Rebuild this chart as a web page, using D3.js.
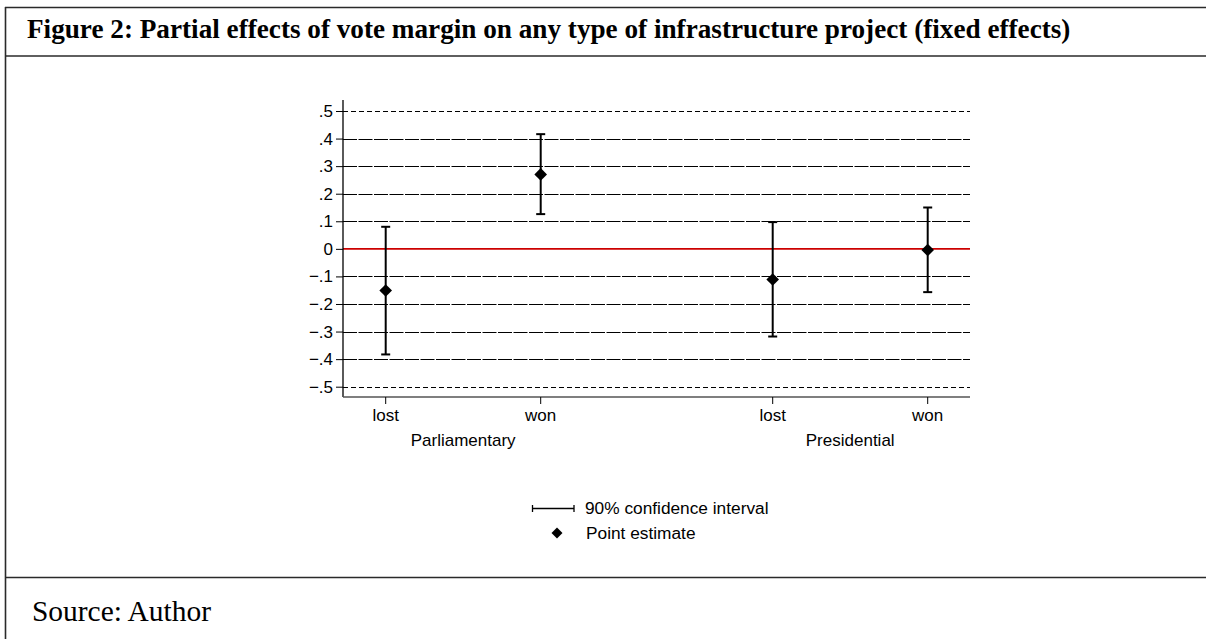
<!DOCTYPE html>
<html>
<head>
<meta charset="utf-8">
<script src="https://cdn.jsdelivr.net/npm/d3@7"></script>
<style>
html,body{margin:0;padding:0;background:#fff;}
svg{display:block;}
</style>
</head>
<body>
<svg id="chart" width="1206" height="639"></svg>
<script>
// ---- data ----
const titleText = "Figure 2: Partial effects of vote margin on any type of infrastructure project (fixed effects)";
const sourceText = "Source: Author";
const groups = ["Parliamentary", "Presidential"];
const outcomes = ["lost", "won"];
const estimates = [-0.151, 0.270, -0.111, -0.004];
const ciLower   = [-0.383, 0.126, -0.318, -0.157];
const ciUpper   = [0.080, 0.416, 0.097, 0.150];
const yTicks = [0.5, 0.4, 0.3, 0.2, 0.1, 0, -0.1, -0.2, -0.3, -0.4, -0.5];
const legendLabels = ["90% confidence interval", "Point estimate"];

const rows = [];
groups.forEach((g, gi) => outcomes.forEach((o, oi) => {
  const i = gi * outcomes.length + oi;
  rows.push({group: g, outcome: o, est: estimates[i], lo: ciLower[i], hi: ciUpper[i]});
}));

const svg = d3.select("#chart");

// ---- frame ----
const frameColor = "#2a2a2a";
svg.append("line").attr("x1", 5).attr("x2", 1206).attr("y1", 7.5).attr("y2", 7.5).attr("stroke", frameColor).attr("stroke-width", 1.6);
svg.append("line").attr("x1", 5).attr("x2", 1206).attr("y1", 56).attr("y2", 56).attr("stroke", frameColor).attr("stroke-width", 1.6);
svg.append("line").attr("x1", 5).attr("x2", 1206).attr("y1", 577.5).attr("y2", 577.5).attr("stroke", frameColor).attr("stroke-width", 1.6);
svg.append("line").attr("x1", 5.5).attr("x2", 5.5).attr("y1", 7).attr("y2", 639).attr("stroke", frameColor).attr("stroke-width", 1.6);

function fitText(sel, target) {
  const fs = parseFloat(sel.attr("font-size"));
  const w = sel.node().getComputedTextLength();
  sel.attr("font-size", (fs * target / w).toFixed(2));
}
const title = svg.append("text").attr("x", 27).attr("y", 38)
  .attr("font-family", "'Liberation Serif','Times New Roman',serif").attr("font-weight", "bold")
  .attr("font-size", 22).attr("fill", "#000").text(titleText);
fitText(title, 1044);
const src = svg.append("text").attr("x", 32).attr("y", 621)
  .attr("font-family", "'Liberation Serif','Times New Roman',serif")
  .attr("font-size", 26).attr("fill", "#000").text(sourceText);
fitText(src, 179);

// ---- scales ----
const plotL = 343, plotR = 970, plotT = 100, plotB = 397;
const y = d3.scaleLinear().domain([-0.5, 0.5]).range([386.7, 111]);
const gx = d3.scalePoint().domain(groups).range([463.2, 850.2]);
const ox = d3.scalePoint().domain(outcomes).range([-77.5, 77.5]);
const xPos = d => gx(d.group) + ox(d.outcome);

const font = "'Liberation Sans', Arial, Helvetica, sans-serif";
const fmt = v => v === 0 ? "0" : d3.format(".1f")(v).replace("0.", ".");

// ---- gridlines ----
const grid = svg.append("g");
grid.selectAll("line").data(yTicks.filter(t => t !== 0)).join("line")
  .attr("x1", plotL).attr("x2", plotR)
  .attr("y1", d => Math.round(y(d)) + 0.5).attr("y2", d => Math.round(y(d)) + 0.5)
  .attr("stroke", "#000").attr("stroke-width", 1)
  .attr("stroke-dasharray", d => Math.abs(d) === 0.5 ? "5,3" : "14,1.5");
svg.append("line").attr("x1", plotL).attr("x2", plotR)
  .attr("y1", y(0)).attr("y2", y(0))
  .attr("stroke", "#cc0000").attr("stroke-width", 1.8);

// ---- y axis ----
const yAxis = d3.axisLeft(y).tickValues(yTicks).tickFormat(fmt).tickSize(7).tickPadding(3);
const yg = svg.append("g").attr("transform", `translate(${plotL},0)`).call(yAxis);
yg.select(".domain").remove();
yg.selectAll(".tick line").attr("stroke", "#000").attr("stroke-width", 1);
yg.selectAll(".tick text").attr("font-family", font).attr("font-size", 17).attr("fill", "#000");
svg.append("line").attr("x1", plotL).attr("x2", plotL).attr("y1", plotT).attr("y2", plotB)
  .attr("stroke", "#000").attr("stroke-width", 1.3);

// ---- x axis ----
svg.append("line").attr("x1", plotL).attr("x2", plotR).attr("y1", plotB).attr("y2", plotB)
  .attr("stroke", "#555").attr("stroke-width", 1.5);
const xg = svg.append("g");
xg.selectAll("line").data(rows).join("line")
  .attr("x1", xPos).attr("x2", xPos).attr("y1", plotB).attr("y2", plotB + 7)
  .attr("stroke", "#000").attr("stroke-width", 1);
xg.selectAll("text.out").data(rows).join("text").attr("class", "out")
  .attr("x", xPos).attr("y", 421).attr("text-anchor", "middle")
  .attr("font-family", font).attr("font-size", 17).attr("fill", "#000").text(d => d.outcome);
xg.selectAll("text.grp").data(groups).join("text").attr("class", "grp")
  .attr("x", d => gx(d)).attr("y", 446).attr("text-anchor", "middle")
  .attr("font-family", font).attr("font-size", 17).attr("fill", "#000").text(d => d);

// ---- error bars ----
const cap = 4.5;
const eb = svg.append("g").attr("stroke", "#000").attr("stroke-width", 2);
eb.selectAll("line.v").data(rows).join("line").attr("class", "v")
  .attr("x1", xPos).attr("x2", xPos).attr("y1", d => y(d.lo)).attr("y2", d => y(d.hi));
eb.selectAll("line.t").data(rows).join("line").attr("class", "t")
  .attr("x1", d => xPos(d) - cap).attr("x2", d => xPos(d) + cap).attr("y1", d => y(d.hi)).attr("y2", d => y(d.hi));
eb.selectAll("line.b").data(rows).join("line").attr("class", "b")
  .attr("x1", d => xPos(d) - cap).attr("x2", d => xPos(d) + cap).attr("y1", d => y(d.lo)).attr("y2", d => y(d.lo));

const diamond = d3.symbol().type(d3.symbolSquare).size(80);
svg.append("g").selectAll("path").data(rows).join("path")
  .attr("d", diamond)
  .attr("transform", d => `translate(${xPos(d)},${y(d.est)}) rotate(45)`)
  .attr("fill", "#000");

// ---- legend ----
const lg = svg.append("g");
lg.append("line").attr("x1", 532.5).attr("x2", 574).attr("y1", 508.5).attr("y2", 508.5).attr("stroke", "#000").attr("stroke-width", 1.3);
lg.append("line").attr("x1", 532.5).attr("x2", 532.5).attr("y1", 505).attr("y2", 512).attr("stroke", "#000").attr("stroke-width", 1.3);
lg.append("line").attr("x1", 574).attr("x2", 574).attr("y1", 505).attr("y2", 512).attr("stroke", "#000").attr("stroke-width", 1.3);
lg.append("path").attr("d", d3.symbol().type(d3.symbolSquare).size(60)).attr("transform", "translate(557,533) rotate(45)").attr("fill", "#000");
lg.selectAll("text").data(legendLabels).join("text")
  .attr("x", (d, i) => i === 0 ? 585 : 586).attr("y", (d, i) => 514 + i * 25)
  .attr("font-family", font).attr("font-size", 17.3).attr("fill", "#000").text(d => d);
</script>
</body>
</html>
